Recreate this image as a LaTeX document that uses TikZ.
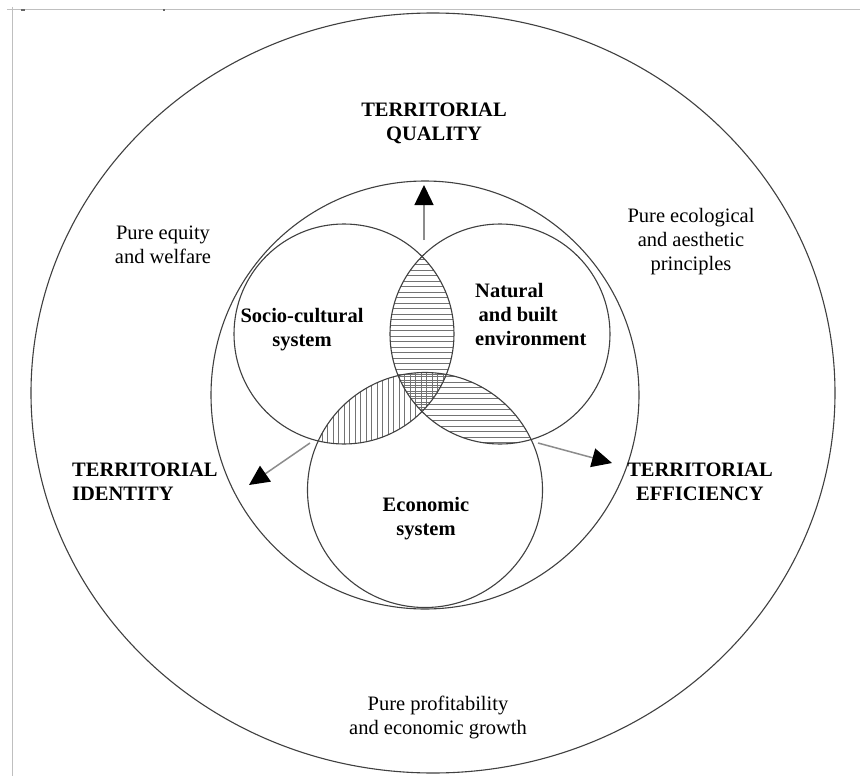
\documentclass[tikz,border=0pt]{standalone}
\usepackage{fontspec}
\setmainfont{Liberation Serif}
\usetikzlibrary{arrows.meta}
\begin{document}
\begin{tikzpicture}[x=1pt,y=-1pt,
  ring/.style={draw=black!75,line width=1.1pt},
  hatch/.style={draw=black!55,line width=0.8pt},
  lbl/.style={inner sep=0pt,font=\fontsize{20.5}{24}\selectfont\bfseries,align=center},
  txt/.style={inner sep=0pt,font=\fontsize{20.5}{24}\selectfont,align=center},
  outarrow/.style={draw=black!45,line width=1.5pt,-{Triangle[width=19pt,length=20pt,color=black,fill=black]}},
  frame/.style={draw=black!25,line width=1pt}]
\useasboundingbox (0,0) rectangle (860,776);
\fill[white] (0,0) rectangle (860,776);
% frame
\draw[frame] (7,10) -- (860,10);
\draw[frame] (12,7) -- (12,776);
\fill[black!60] (21,9) rectangle (25,11);
\fill[black!60] (163,9) rectangle (165,11);
% circle centres
\coordinate (cO) at (433,393);
\coordinate (cM) at (425,395);
\coordinate (cS) at (344,334);
\coordinate (cN) at (500,334);
\coordinate (cE) at (425,490);
% hatching
\begin{scope}
  \clip (cS) circle[radius=110];
  \clip (cN) circle[radius=110];
  \foreach \y in {226,231.5,...,450} \draw[hatch] (380,\y) -- (470,\y);
\end{scope}
\begin{scope}
  \clip (cN) circle[radius=110];
  \clip (cE) circle[radius=117.5];
  \foreach \y in {371,376.5,...,450} \draw[hatch] (380,\y) -- (620,\y);
\end{scope}
\begin{scope}
  \clip (cS) circle[radius=110];
  \clip (cE) circle[radius=117.5];
  \foreach \x in {300,305.5,...,450} \draw[hatch] (\x,360) -- (\x,450);
\end{scope}
% circles
\draw[ring] (cO) ellipse[x radius=402,y radius=380];
\draw[ring] (cM) circle[radius=214];
\draw[ring] (cS) circle[radius=110];
\draw[ring] (cN) circle[radius=110];
\draw[ring] (cE) circle[radius=117.5];
% arrows
\coordinate (qS) at (424,240);
\coordinate (qT) at (424,185);
\coordinate (iS) at (310,443);
\coordinate (iT) at (249,485);
\coordinate (eS) at (538,443);
\coordinate (eT) at (612,463);
\draw[outarrow] (qS) -- (qT);
\draw[outarrow] (iS) -- (iT);
\draw[outarrow] (eS) -- (eT);
% labels
\node[lbl,anchor=north] (quality) at (434,103) {TERRITORIAL\\QUALITY};
\node[lbl,anchor=north west,align=left] (identity) at (72,463) {TERRITORIAL\\IDENTITY};
\node[lbl,anchor=north] (efficiency) at (700,463) {TERRITORIAL\\EFFICIENCY};
\node[lbl,anchor=north] (socio) at (302,308) {Socio-cultural\\system};
\node[lbl,anchor=north west,align=left] (natural) at (475,283) {Natural\\\,and built\\environment};
\node[lbl,anchor=north] (economic) at (426,497) {Economic\\system};
\node[txt,anchor=north] (equity) at (163,226) {Pure equity\\and welfare};
\node[txt,anchor=north] (ecological) at (691,208) {Pure ecological\\and aesthetic\\principles};
\node[txt,anchor=north] (profit) at (438,696) {Pure profitability\\and economic growth};
\end{tikzpicture}
\end{document}
